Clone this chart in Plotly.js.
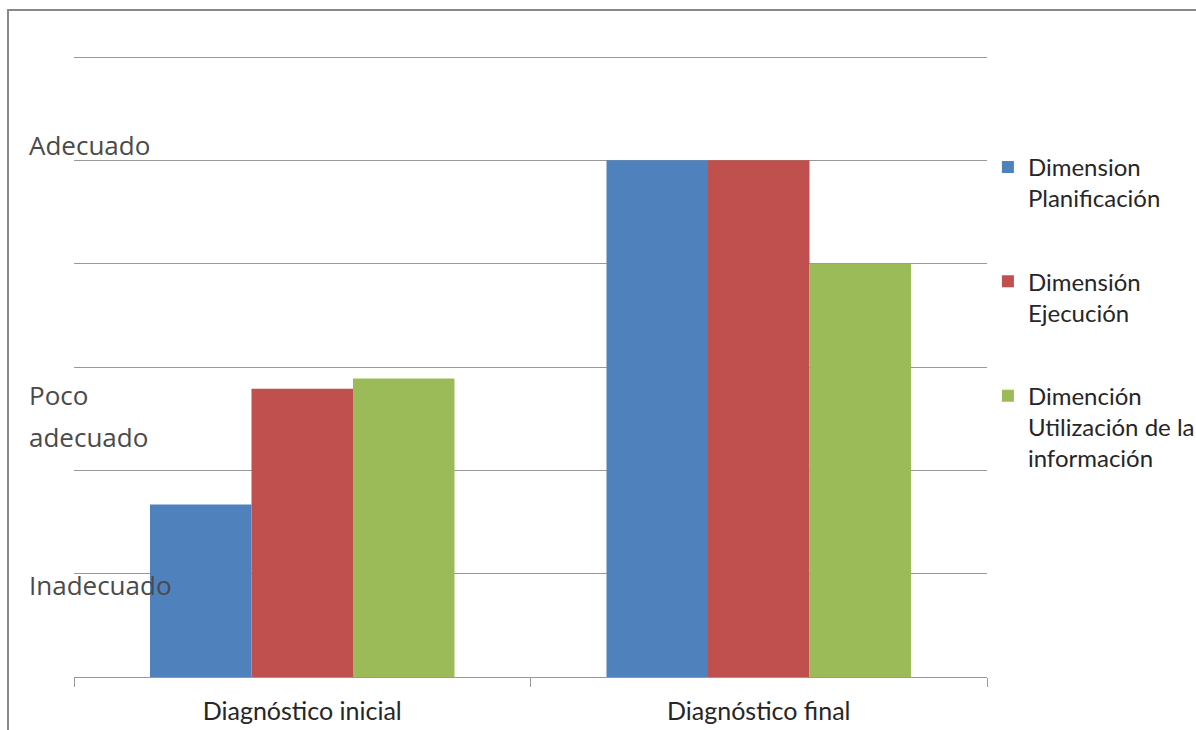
<!DOCTYPE html>
<html>
<head>
<meta charset="utf-8">
<script src="https://cdn.plot.ly/plotly-3.0.1.min.js"></script>
<style>html,body{margin:0;padding:0;background:#fff;}#chart{width:1196px;height:730px;}</style>
</head>
<body>
<div id="chart"></div>
<script>
const categories = ["Diagnóstico inicial", "Diagnóstico final"];
const seriesNames = ["Dimension<br>Planificación", "Dimensión<br>Ejecución", "Dimención<br>Utilización de la<br>información"];
const planificacion = [1.67, 5];
const ejecucion = [2.79, 5];
const utilizacion = [2.89, 4];
const seriesColors = ["#4F81BD", "#C0504D", "#9BBB59"];
const levelLabels = ["Adecuado", "Poco", "adecuado", "Inadecuado"];
const levelPositions = [5.15, 2.73, 2.32, 0.89];

const values = [planificacion, ejecucion, utilizacion];
const traces = values.map((v, i) => ({
  type: "bar",
  x: categories,
  y: v,
  name: seriesNames[i],
  legendgroup: "g" + i,
  marker: {color: seriesColors[i]},
  hoverinfo: "skip"
}));

const annotations = levelLabels.map((t, i) => ({
  text: t,
  xref: "paper", yref: "y",
  x: -0.052, y: levelPositions[i],
  xanchor: "left", yanchor: "middle",
  align: "left",
  showarrow: false,
  font: {family: "Open Sans, sans-serif", size: 26, color: "#4a4a4a"}
}));

const layout = {
  width: 1196, height: 730,
  margin: {l: 74, r: 209, t: 56, b: 53, autoexpand: false},
  paper_bgcolor: "#fff", plot_bgcolor: "#fff",
  barmode: "group",
  bargap: 0.333, bargroupgap: 0,
  font: {family: "Lato, sans-serif", color: "#262626"},
  xaxis: {
    type: "category",
    showline: true, linecolor: "#999", linewidth: 1,
    ticks: "outside", tickson: "boundaries", ticklen: 9, tickcolor: "#999",
    ticklabelstandoff: 12,
    tickfont: {size: 25, family: "Lato, sans-serif", color: "#262626"},
    showgrid: false, zeroline: false
  },
  yaxis: {
    range: [0, 6.01], dtick: 1,
    showticklabels: false,
    showgrid: true, gridcolor: "#999", gridwidth: 1,
    zeroline: false, showline: false, ticks: ""
  },
  showlegend: true,
  legend: {
    x: 1.001, xanchor: "left", y: 0.857, yanchor: "top",
    valign: "top",
    font: {size: 24, family: "Lato, sans-serif", color: "#262626"},
    tracegroupgap: 49,
    itemwidth: 30
  },
  annotations: annotations,
  shapes: [{
    type: "rect", xref: "paper", yref: "paper",
    x0: -0.0723, x1: 1.5, y0: -0.3, y1: 1.074,
    line: {color: "#888", width: 2}, layer: "below"
  }]
};

Plotly.newPlot("chart", traces, layout, {displayModeBar: false, staticPlot: true});
</script>
</body>
</html>
